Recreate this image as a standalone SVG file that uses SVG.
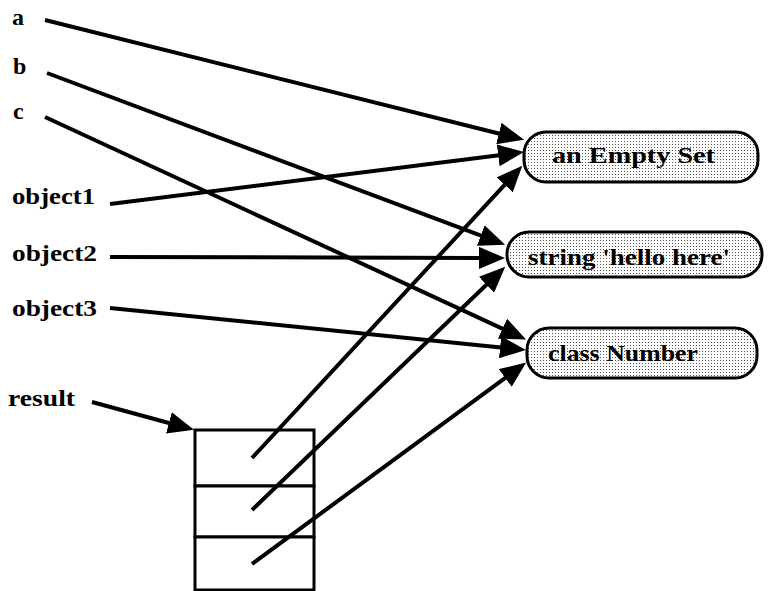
<svg xmlns="http://www.w3.org/2000/svg" width="768" height="591" viewBox="0 0 768 591">
<style>
.lbl{font-family:"Liberation Serif","Times New Roman",serif;font-weight:bold;font-size:24px;fill:#000}
.box{fill:url(#stip);stroke:#000;stroke-width:3}
.cell{fill:#fff;stroke:#000;stroke-width:3}
.con line{stroke:#000;stroke-width:4;fill:none;marker-end:url(#ah)}
</style>
<defs>
<pattern id="stip" width="3" height="3" patternUnits="userSpaceOnUse">
<rect width="3" height="3" fill="#fff"/>
<rect width="1" height="1" fill="#555"/>
</pattern>
<marker id="ah" markerUnits="userSpaceOnUse" markerWidth="26" markerHeight="22" refX="1" refY="11" orient="auto" viewBox="0 0 26 22">
<path d="M0,0 L26,11 L0,22 z" fill="#000"/>
</marker>
</defs>
<rect width="768" height="591" fill="#fff"/>
<g id="var-a"><text class="lbl" x="12" y="25">a</text></g>
<g id="var-b"><text class="lbl" x="13" y="74">b</text></g>
<g id="var-c"><text class="lbl" x="13" y="119">c</text></g>
<g id="var-object1"><text class="lbl" x="12" y="204" textLength="83" lengthAdjust="spacingAndGlyphs">object1</text></g>
<g id="var-object2"><text class="lbl" x="12" y="261" textLength="85" lengthAdjust="spacingAndGlyphs">object2</text></g>
<g id="var-object3"><text class="lbl" x="12" y="316" textLength="85" lengthAdjust="spacingAndGlyphs">object3</text></g>
<g id="var-result"><text class="lbl" x="8" y="406" textLength="67" lengthAdjust="spacingAndGlyphs">result</text></g>
<g id="obj-emptyset">
<rect class="box" x="524" y="132" width="234" height="50" rx="22" ry="22"/>
<text class="lbl" x="552" y="163" textLength="163" lengthAdjust="spacingAndGlyphs">an Empty Set</text>
</g>
<g id="obj-string">
<rect class="box" x="507" y="232" width="255" height="45" rx="22" ry="22"/>
<text class="lbl" x="528" y="265" textLength="202" lengthAdjust="spacingAndGlyphs">string 'hello here'</text>
</g>
<g id="obj-number">
<rect class="box" x="527" y="328" width="230" height="50" rx="22" ry="22"/>
<text class="lbl" x="548" y="361" textLength="150" lengthAdjust="spacingAndGlyphs">class Number</text>
</g>
<g id="result-array">
<rect class="cell" x="195" y="430" width="119" height="56"/>
<rect class="cell" x="195" y="486" width="119" height="51"/>
<rect class="cell" x="195" y="537" width="119" height="53"/>
</g>
<g id="connectors" class="con">
<line x1="45" y1="20" x2="499.8" y2="133.7"/>
<line x1="47" y1="73" x2="481.7" y2="235.9"/>
<line x1="45" y1="117" x2="503.4" y2="329.1"/>
<line x1="110" y1="204" x2="499.2" y2="155.2"/>
<line x1="110" y1="257" x2="480" y2="257.9"/>
<line x1="110" y1="308" x2="501.1" y2="347.4"/>
<line x1="252" y1="458" x2="505.3" y2="184.1"/>
<line x1="252" y1="510" x2="487.2" y2="284"/>
<line x1="252" y1="564" x2="506" y2="377.4"/>
<line x1="92" y1="402" x2="169.9" y2="423.2"/>
</g>
</svg>
